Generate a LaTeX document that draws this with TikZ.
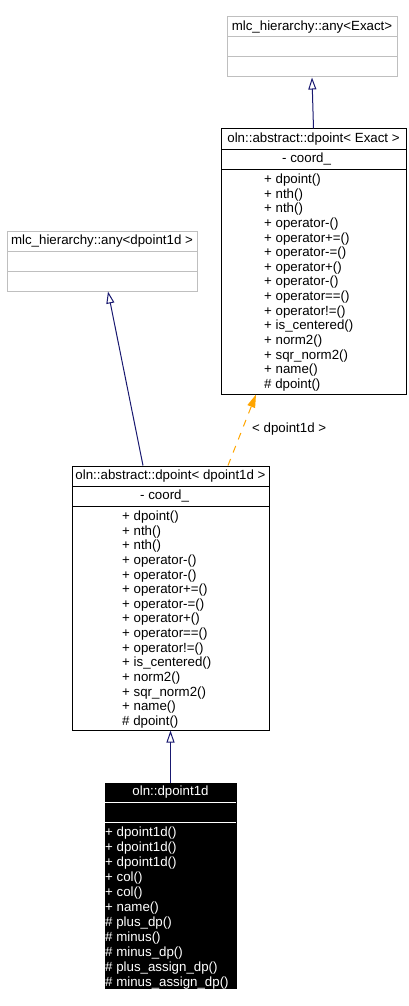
\documentclass[tikz,border=0pt]{standalone}
\usepackage{fontspec}
\setmainfont{Liberation Sans}
\usepackage{tikz}
\usetikzlibrary{arrows.meta,positioning}
\definecolor{edgeblue}{RGB}{25,25,112}
\definecolor{edgeorange}{RGB}{255,165,0}
\definecolor{boxgrey}{RGB}{191,191,191}

\begin{document}
\begin{tikzpicture}
[x=1pt,y=-1pt,
 box/.style={draw=black,line width=1pt,inner sep=0pt,fill=white},
 greybox/.style={box,draw=boxgrey},
 darkbox/.style={box,fill=black},
 txt/.style={inner sep=0pt,font=\fontsize{13.3}{14.6}\selectfont,
   text height=9.7pt,text depth=2.8pt},
 member/.style={txt,anchor=west},
 inherit/.style={draw=edgeblue,line width=1pt,
   -{Triangle[open,length=12pt,width=8pt]}},
 template/.style={draw=edgeorange,line width=1pt,dash pattern=on 7pt off 7pt,
   -{Triangle[length=13pt,width=8pt,fill=edgeorange]}}]
\useasboundingbox (0,0) rectangle (409,1006);

% mlc_hierarchy::any<Exact>
\node[greybox] (10) at (312,47) [minimum width=170pt,minimum height=60pt] {};
\draw [boxgrey,line width=1pt] (227,37) -- (397,37) (227,57) -- (397,57);
\node[txt] (10-t) at (312,27) {mlc\_hierarchy::any<Exact>};

% oln::abstract::dpoint< Exact >
\node[box] (11) at (313.5,261.5) [minimum width=185pt,minimum height=265pt] {};
\draw [line width=1pt] (221,149) -- (406,149) (221,169) -- (406,169);
\node[txt] (11-t) at (313.5,139) {oln::abstract::dpoint< Exact >};
\node[member] (11-a) at (282,159) {- coord\_};
\foreach \m [count=\i from 0] in {+ dpoint(),+ nth(),+ nth(),+ operator-(),
  + operator+=(),+ operator-=(),+ operator+(),+ operator-(),+ operator==(),
  + operator!=(),+ is\_centered(),+ norm2(),+ sqr\_norm2(),+ name(),\# dpoint()}
  \node[member] (11-\i) at (264,180+14.64*\i) {\m};

% mlc_hierarchy::any<dpoint1d >
\node[greybox] (01) at (102,261) [minimum width=190pt,minimum height=60pt] {};
\draw [boxgrey,line width=1pt] (7,251) -- (197,251) (7,271) -- (197,271);
\node[txt] (01-t) at (102,241) {mlc\_hierarchy::any<dpoint1d >};

% oln::abstract::dpoint< dpoint1d >
\node[box] (02) at (170.5,598) [minimum width=197pt,minimum height=264pt] {};
\draw [line width=1pt] (72,486) -- (269,486) (72,506) -- (269,506);
\node[txt] (02-t) at (170.5,476) {oln::abstract::dpoint< dpoint1d >};
\node[member] (02-a) at (140,496) {- coord\_};
\foreach \m [count=\i from 0] in {+ dpoint(),+ nth(),+ nth(),+ operator-(),
  + operator-(),+ operator+=(),+ operator-=(),+ operator+(),+ operator==(),
  + operator!=(),+ is\_centered(),+ norm2(),+ sqr\_norm2(),+ name(),\# dpoint()}
  \node[member] (02-\i) at (122,517+14.64*\i) {\m};

% oln::dpoint1d
\node[darkbox] (03) at (170.5,885.5) [minimum width=131pt,minimum height=205pt] {};
\draw [white,line width=1pt] (105,802) -- (236,802) (105,822) -- (236,822);
\node[txt,text=white] (03-t) at (170.5,792) {oln::dpoint1d};
\foreach \m [count=\i from 0] in {+ dpoint1d(),+ dpoint1d(),+ dpoint1d(),
  + col(),+ col(),+ name(),\# plus\_dp(),\# minus(),\# minus\_dp(),
  \# plus\_assign\_dp(),\# minus\_assign\_dp()}
  \node[member,text=white] (03-\i) at (105,833+15*\i) {\m};

% edges
\draw [inherit] (11.north) -- (10.south);
\draw [inherit] ([xshift=-27.5pt]02.north) -- ([xshift=6pt]01.south);
\draw [template] ([xshift=57.5pt]02.north) -- ([xshift=-57.5pt]11.south);
\node[member] (lbl) at (252,429) {< dpoint1d >};
\draw [inherit] (03.north) -- (02.south);
\end{tikzpicture}
\end{document}
